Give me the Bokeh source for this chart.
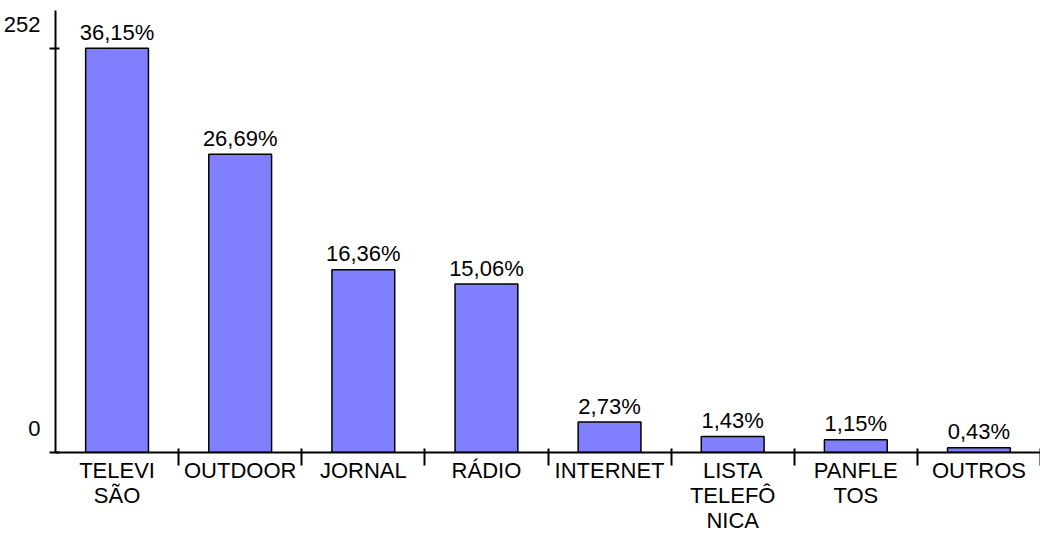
from bokeh.plotting import figure
from bokeh.models import Range1d, FixedTicker, ColumnDataSource
from bokeh.core.properties import value
from bokeh.embed import file_html
from bokeh.resources import INLINE

# ---- data ----
categories = ["TELEVI\nSÃO", "OUTDOOR", "JORNAL", "RÁDIO", "INTERNET",
              "LISTA\nTELEFÔ\nNICA", "PANFLE\nTOS", "OUTROS"]
counts = [252, 186, 114, 105, 19, 10, 8, 3]
pct_labels = ["36,15%", "26,69%", "16,36%", "15,06%", "2,73%", "1,43%", "1,15%", "0,43%"]
y_ticks = [0, 252]

FONT = "Liberation Sans"
FS = "22px"

W, H = 1040, 535
LEFT, TOP, AXIS_Y = 54, 10, 454
Y_END = 275.6
px_per_unit = (AXIS_Y - TOP) / Y_END
label_shift = 24 / px_per_unit   # y-axis labels sit above their ticks

n = len(categories)
centers = [i + 0.5 for i in range(n)]
src = ColumnDataSource(dict(x=centers, top=counts, lab=pct_labels))

p = figure(width=W, height=H, output_backend="svg", toolbar_location=None,
           x_range=Range1d(0, n), y_range=Range1d(0, Y_END),
           min_border_left=LEFT, min_border_right=0, min_border_top=TOP,
           min_border_bottom=H - AXIS_Y)
p.outline_line_color = None
p.xgrid.visible = False
p.ygrid.visible = False
p.background_fill_color = "white"
p.border_fill_color = "white"

p.vbar(x="x", top="top", width=0.51, bottom=0, source=src,
       fill_color="#8080FF", line_color="black", line_width=1.5)

p.text(x="x", y="top", text="lab", source=src, y_offset=-16,
       text_align="center", text_baseline="alphabetic",
       text_font=value(FONT), text_font_size=value(FS), text_color="black")

# x axis: labels at centres (no tick), separator ticks at boundaries (minor)
xa = p.xaxis[0]
xa.ticker = FixedTicker(ticks=centers, minor_ticks=[i + 1 for i in range(n)])
xa.major_label_overrides = {c: lab for c, lab in zip(centers, categories)}
xa.major_tick_in = 0
xa.major_tick_out = 0
xa.minor_tick_in = 4
xa.minor_tick_out = 13
xa.minor_tick_line_width = 2
xa.minor_tick_line_color = "black"
xa.axis_line_width = 2
xa.axis_line_color = "black"
xa.major_label_standoff = -8
xa.major_label_text_font = FONT
xa.major_label_text_font_size = FS
xa.major_label_text_color = "black"
xa.major_label_text_line_height = 1.0

# y axis: tick marks (minor) at values, labels (major) shifted above them
ya = p.yaxis[0]
lab_pos = [v + label_shift for v in y_ticks]
ya.ticker = FixedTicker(ticks=lab_pos, minor_ticks=y_ticks)
ya.major_label_overrides = {pos: str(v) for pos, v in zip(lab_pos, y_ticks)}
ya.major_tick_in = 0
ya.major_tick_out = 0
ya.minor_tick_in = 4
ya.minor_tick_out = 6
ya.minor_tick_line_width = 2
ya.minor_tick_line_color = "black"
ya.axis_line_width = 2
ya.axis_line_color = "black"
ya.major_label_standoff = 9
ya.major_label_text_font = FONT
ya.major_label_text_font_size = FS
ya.major_label_text_color = "black"

open("out.html", "w").write(file_html(p, INLINE))
